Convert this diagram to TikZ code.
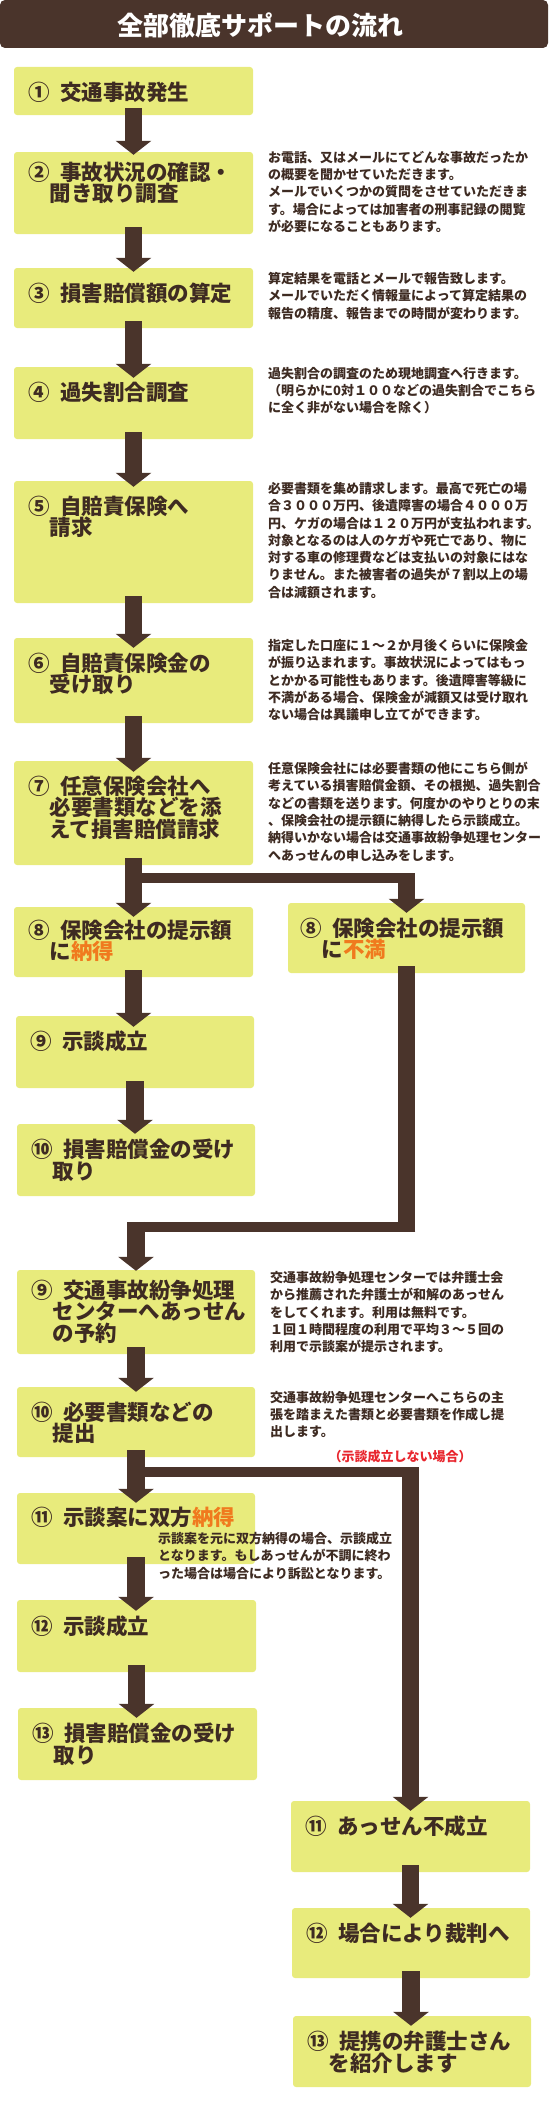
\documentclass[tikz,border=0pt]{standalone}
\usepackage{fontspec}
\setmainfont{Noto Sans CJK JP}
\usepackage{tikz}
\usetikzlibrary{arrows.meta,positioning,calc,fit}
\definecolor{barbrown}{HTML}{4A342B}
\definecolor{boxyellow}{HTML}{E8EB7C}
\definecolor{inkbrown}{HTML}{3E2B22}
\definecolor{hiorange}{HTML}{F07A1E}
\definecolor{notered}{HTML}{E8262E}

\begin{document}
\begin{tikzpicture}[
  x=1pt,y=-1pt,
  stepbox/.style={fill=boxyellow,rounded corners=3pt,inner sep=0pt},
  steptext/.style={font=\fontsize{21.5}{21.5}\selectfont\bfseries,text=inkbrown,align=left,inner sep=0pt,anchor=north west},
  notetext/.style={font=\fontsize{13}{17.3}\selectfont\bfseries,text=inkbrown,align=left,inner sep=0pt,anchor=north west},
  flowarrow/.style={draw=barbrown,line width=17.5pt,-{Triangle[width=35pt,length=14pt]}},
  flowshaft/.style={draw=barbrown,line width=17.5pt},
  flowbar/.style={draw=barbrown,line width=10pt}]
\useasboundingbox (0,0) rectangle (550,2117);
% title
\node[fill=barbrown,rounded corners=5pt,inner sep=0pt,fit={(0,0) (548,48)}] (head) {};
\node[font=\fontsize{26}{26}\selectfont\bfseries,text=white] (title) at (260,25) {全部徹底サポートの流れ};
% boxes
\node[stepbox,fit={(14,67) (253,115)}] (s1) {};
\node[stepbox,fit={(14,152) (253,234)}] (s2) {};
\node[stepbox,fit={(14,268) (253,328)}] (s3) {};
\node[stepbox,fit={(14,367) (253,439)}] (s4) {};
\node[stepbox,fit={(14,481) (253,603)}] (s5) {};
\node[stepbox,fit={(14,638) (253,723)}] (s6) {};
\node[stepbox,fit={(14,761) (253,865)}] (s7) {};
\node[stepbox,fit={(14,907) (253,977)}] (s8l) {};
\node[stepbox,fit={(288,903) (525,973)}] (s8r) {};
\node[stepbox,fit={(16,1016) (254,1088)}] (s9l) {};
\node[stepbox,fit={(17,1124) (255,1196)}] (s10l) {};
\node[stepbox,fit={(17,1270) (255,1354)}] (s9c) {};
\node[stepbox,fit={(17,1387) (255,1457)}] (s10c) {};
\node[stepbox,fit={(17,1493) (255,1564)}] (s11l) {};
\node[stepbox,fit={(17,1600) (256,1672)}] (s12l) {};
\node[stepbox,fit={(18,1708) (257,1780)}] (s13l) {};
\node[stepbox,fit={(291,1801) (530,1872)}] (s11r) {};
\node[stepbox,fit={(292,1908) (530,1978)}] (s12r) {};
\node[stepbox,fit={(293,2016) (531,2087)}] (s13r) {};
% straight arrows
\foreach \u/\v/\d in {s1/s2/3,s2/s3/4,s3/s4/11,s4/s5/6,s5/s6/10,s6/s7/11,s7/s8l/10,s8l/s9l/11,s9l/s10l/10,
  s9c/s10c/5,s10c/s11l/10,s11l/s12l/11,s12l/s13l/10,s11r/s12r/10,s12r/s13r/10}
  \draw[flowarrow] ($(\u.south)+(0,-7)$) -- ($(\u.south |- \v.north)+(0,\d)$);
% fork to the right after step 7
\coordinate (fork) at ($(s7.south)+(0,13)$);
\draw[flowbar] (fork) -- ($(fork -| s8r.north)+(8.75,0)$);
\draw[flowarrow] ($(fork -| s8r.north)+(0,-5)$) -- ($(s8r.north)+(0,10)$);
% back to the left column
\coordinate (merge) at ($(s9c.north)+(0,-43)$);
\draw[flowshaft] ($(s8r.south)+(0,-7)$) -- ($(s8r.south |- merge)+(0,5)$);
\draw[flowbar] ($(s8r.south |- merge)+(8.75,0)$) -- ($(merge)+(-8.75,0)$);
\draw[flowarrow] ($(merge)+(0,-5)$) -- ($(s9c.north)+(0,1)$);
% fork to the right after step 10
\coordinate (fork2) at ($(s10c.south)+(0,15)$);
\draw[flowbar] (fork2) -- ($(fork2 -| s11r.north)+(8.75,0)$);
\draw[flowarrow] ($(fork2 -| s11r.north)+(0,-5)$) -- ($(s11r.north)+(0,10)$);
% step texts
\node[steptext,below right=15pt and 14pt of s1.north west] (t1) {①\hspace{.5em}交通事故発生};
\node[steptext,below right=10pt and 14pt of s2.north west] (t2) {②\hspace{.5em}事故状況の確認・\\\hspace*{1em}聞き取り調査};
\node[steptext,below right=15pt and 14pt of s3.north west] (t3) {③\hspace{.5em}損害賠償額の算定};
\node[steptext,below right=15pt and 14pt of s4.north west] (t4) {④\hspace{.5em}過失割合調査};
\node[steptext,below right=15pt and 14pt of s5.north west] (t5) {⑤\hspace{.5em}自賠責保険へ\\\hspace*{1em}請求};
\node[steptext,below right=15pt and 14pt of s6.north west] (t6) {⑥\hspace{.5em}自賠責保険金の\\\hspace*{1em}受け取り};
\node[steptext,below right=15pt and 14pt of s7.north west] (t7) {⑦\hspace{.5em}任意保険会社へ\\\hspace*{1em}必要書類などを添\\\hspace*{1em}えて損害賠償請求};
\node[steptext,below right=13pt and 14pt of s8l.north west] (t8l) {⑧\hspace{.5em}保険会社の提示額\\\hspace*{1em}に\textcolor{hiorange}{納得}};
\node[steptext,below right=15pt and 12pt of s8r.north west] (t8r) {⑧\hspace{.5em}保険会社の提示額\\\hspace*{1em}に\textcolor{hiorange}{不満}};
\node[steptext,below right=15pt and 14pt of s9l.north west] (t9l) {⑨\hspace{.5em}示談成立};
\node[steptext,below right=15pt and 14pt of s10l.north west] (t10l) {⑩\hspace{.5em}損害賠償金の受け\\\hspace*{1em}取り};
\node[steptext,below right=10pt and 14pt of s9c.north west] (t9c) {⑨\hspace{.5em}交通事故紛争処理\\\hspace*{1em}センターへあっせん\\\hspace*{1em}の予約};
\node[steptext,below right=15pt and 14pt of s10c.north west] (t10c) {⑩\hspace{.5em}必要書類などの\\\hspace*{1em}提出};
\node[steptext,below right=14pt and 14pt of s11l.north west] (t11l) {⑪\hspace{.5em}示談案に双方\textcolor{hiorange}{納得}};
\node[steptext,below right=16pt and 14pt of s12l.north west] (t12l) {⑫\hspace{.5em}示談成立};
\node[steptext,below right=15pt and 14pt of s13l.north west] (t13l) {⑬\hspace{.5em}損害賠償金の受け\\\hspace*{1em}取り};
\node[steptext,below right=15pt and 14pt of s11r.north west] (t11r) {⑪\hspace{.5em}あっせん不成立};
\node[steptext,below right=15pt and 14pt of s12r.north west] (t12r) {⑫\hspace{.5em}場合により裁判へ};
\node[steptext,below right=15pt and 14pt of s13r.north west] (t13r) {⑬\hspace{.5em}提携の弁護士さん\\\hspace*{1em}を紹介します};
% notes
\node[notetext] (n2) at (268,151) {お電話、又はメールにてどんな事故だったか\\の概要を聞かせていただきます。\\メールでいくつかの質問をさせていただきま\\す。場合によっては加害者の刑事記録の閲覧\\が必要になることもあります。};
\node[notetext] (n3) at (268,272) {算定結果を電話とメールで報告致します。\\メールでいただく情報量によって算定結果の\\報告の精度、報告までの時間が変わります。};
\node[notetext] (n4) at (268,367) {過失割合の調査のため現地調査へ行きます。\\（明らかに0対１００などの過失割合でこちら\\に全く非がない場合を除く）};
\node[notetext] (n5) at (268,482) {必要書類を集め請求します。最高で死亡の場\\合３０００万円、後遺障害の場合４０００万\\円、ケガの場合は１２０万円が支払われます。\\対象となるのは人のケガや死亡であり、物に\\対する車の修理費などは支払いの対象にはな\\りません。また被害者の過失が７割以上の場\\合は減額されます。};
\node[notetext] (n6) at (268,639) {指定した口座に１～２か月後くらいに保険金\\が振り込まれます。事故状況によってはもっ\\とかかる可能性もあります。後遺障害等級に\\不満がある場合、保険金が減額又は受け取れ\\ない場合は異議申し立てができます。};
\node[notetext] (n7) at (268,762) {任意保険会社には必要書類の他にこちら側が\\考えている損害賠償金額、その根拠、過失割合\\などの書類を送ります。何度かのやりとりの末\\、保険会社の提示額に納得したら示談成立。\\納得いかない場合は交通事故紛争処理センター\\へあっせんの申し込みをします。};
\node[notetext] (n9) at (270,1271) {交通事故紛争処理センターでは弁護士会\\から推薦された弁護士が和解のあっせん\\をしてくれます。利用は無料です。\\１回１時間程度の利用で平均３～５回の\\利用で示談案が提示されます。};
\node[notetext] (n10) at (270,1391) {交通事故紛争処理センターへこちらの主\\張を踏まえた書類と必要書類を作成し提\\出します。};
\node[notetext,text=notered,anchor=center] (nofail) at (400,1457) {（示談成立しない場合）};
\node[notetext] (n11) at (158,1532) {示談案を元に双方納得の場合、示談成立\\となります。もしあっせんが不調に終わ\\った場合は場合により訴訟となります。};
\end{tikzpicture}
\end{document}
